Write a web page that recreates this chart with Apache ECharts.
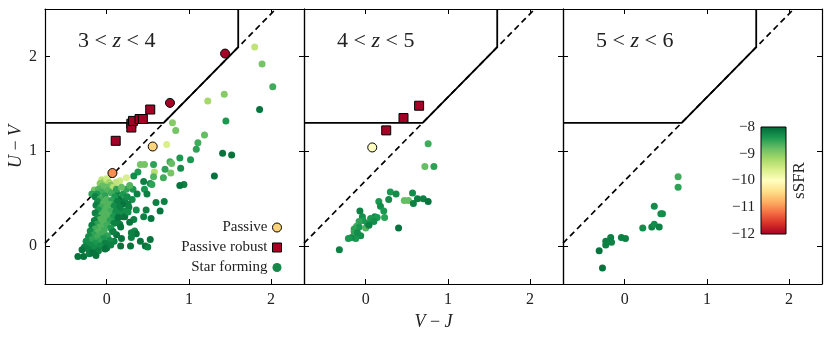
<!DOCTYPE html>
<html>
<head>
<meta charset="utf-8">
<script src="https://cdn.jsdelivr.net/npm/echarts@6/dist/echarts.min.js"></script>
<style>html,body{margin:0;padding:0;background:#fff}#c{width:831px;height:337px}</style>
</head>
<body>
<div id="c"></div>
<script>
// ---- data ----
const panelLabels = [['3','4'],['4','5'],['5','6']];
const xTicks = [0, 1, 2];
const yTicks = [0, 1, 2];
// UVJ selection box (solid) and diagonal (dashed)
const boxLine = [[-0.75, 1.3], [0.693, 1.3], [1.6, 2.098], [1.6, 2.5]];
const diagLine = [[-0.75, 0.03], [2.057, 2.5]];
// [V-J, U-V, sSFR]
const sf1 = [
[1.80,2.10,-9.4],[1.89,1.92,-8.9],[2.02,1.68,-8.6],[1.86,1.44,-8.1],[1.43,1.60,-9.0],[1.23,1.53,-9.2],[1.45,1.32,-8.4],[0.80,1.30,-9.0],[0.84,1.22,-8.9],[0.73,1.07,-9.6],[1.19,1.17,-8.8],[1.11,1.09,-8.6],[1.09,1.02,-8.5],[1.41,0.98,-8.1],[1.52,0.96,-8.1],[1.31,0.74,-8.1],[1.02,0.91,-8.4],[0.89,0.93,-8.4],[0.90,0.82,-8.3],[0.94,0.65,-8.2],[0.89,0.64,-8.1],[0.77,0.89,-8.6],[0.79,0.87,-8.8],[0.78,0.77,-8.9],[0.71,0.81,-8.5],[0.69,0.72,-8.6],[0.57,0.86,-8.5],[0.58,0.78,-9.3],[0.57,0.73,-8.7],[0.41,0.86,-8.9],[0.46,0.86,-8.9],[0.38,0.78,-8.4],[0.33,0.74,-8.3],[0.24,0.72,-9.6],[0.16,0.69,-9.5],[0.11,0.67,-9.4],[0.32,0.60,-8.4],[0.45,0.68,-8.2],[0.53,0.66,-8.3],[0.55,0.65,-8.5],[0.46,0.60,-8.4],[0.49,0.55,-8.2],[0.37,0.55,-8.2],[0.31,0.49,-8.3],[0.26,0.44,-8.2],[0.60,0.46,-8.2],[0.70,0.47,-8.2],[0.65,0.37,-8.1],[0.48,0.38,-8.2],[0.45,0.31,-8.2],[0.54,0.29,-8.1],[0.36,0.38,-8.3],[0.33,0.28,-8.2],[0.34,0.16,-8.3],[0.36,0.13,-8.1],[0.30,0.09,-8.2],[0.41,0.05,-8.1],[0.53,0.07,-8.1],[0.47,0.00,-8.1],[0.50,-0.01,-8.2],[0.29,0.00,-8.1],[0.17,0.00,-8.1],[0.20,0.31,-8.2],[0.22,0.37,-8.3],[0.16,0.23,-8.2],[0.07,0.16,-8.3],
[0.12,0.56,-8.2],[0.15,0.50,-8.1],[0.20,0.55,-8.4],[0.22,0.48,-8.2],[0.25,0.52,-8.3],[0.19,0.44,-8.1],[0.27,0.41,-8.2],[0.17,0.36,-8.3],[0.22,0.31,-8.1],[0.13,0.25,-8.2],[0.17,0.20,-8.1],[0.12,0.12,-8.1],[0.09,0.05,-8.2],[0.18,0.08,-8.1],[0.28,0.25,-8.1],[0.30,0.14,-8.2],[0.26,0.36,-8.3],[0.24,0.60,-8.5],[0.28,0.64,-8.7],
[-0.15,0.59,-8.9],[-0.18,0.55,-8.5],
[-0.06,0.70,-9.4],[-0.03,0.68,-9.1],[0.00,0.71,-9.5],[0.03,0.67,-9.2],[-0.08,0.66,-9.0],[0.05,0.64,-8.9],[-0.05,0.63,-8.8],[0.00,0.62,-8.8],[0.08,0.62,-9.3],[-0.10,0.60,-8.7],[0.02,0.58,-8.7],[-0.06,0.57,-8.6],[0.06,0.56,-8.6],[0.12,0.60,-8.5],[0.18,0.62,-8.8],[-0.12,0.55,-8.4],[-0.02,0.53,-8.5],[0.10,0.52,-8.4],
[-0.14,0.52,-8.2],[-0.08,0.50,-8.6],[0.00,0.49,-8.7],[0.06,0.48,-8.5],[-0.11,0.47,-8.3],[0.13,0.47,-8.2],[-0.04,0.45,-8.7],[0.03,0.44,-8.7],[-0.13,0.43,-8.2],[0.09,0.42,-8.3],[-0.07,0.41,-8.6],[0.00,0.40,-8.7],[0.16,0.41,-8.2],[-0.10,0.38,-8.4],[0.05,0.37,-8.6],[-0.03,0.36,-8.7],[0.11,0.36,-8.3],[-0.14,0.35,-8.2],[-0.06,0.33,-8.7],[0.02,0.32,-8.7],[0.08,0.31,-8.4],[-0.11,0.30,-8.3],[0.14,0.30,-8.1],[-0.02,0.29,-8.7],
[-0.08,0.28,-8.7],[0.04,0.27,-8.5],[-0.15,0.27,-8.2],[-0.05,0.25,-8.7],[0.09,0.24,-8.2],[-0.12,0.23,-8.5],[0.00,0.22,-8.6],[-0.18,0.22,-8.2],[-0.08,0.20,-8.7],[0.05,0.19,-8.4],[-0.14,0.18,-8.6],[-0.03,0.17,-8.6],[-0.20,0.16,-8.3],[0.08,0.15,-8.2],[-0.10,0.15,-8.7],[-0.06,0.13,-8.6],[-0.16,0.12,-8.5],[0.01,0.11,-8.5],[-0.22,0.10,-8.3],[-0.12,0.09,-8.6],[-0.04,0.08,-8.4],[-0.18,0.07,-8.5],[0.04,0.06,-8.3],[-0.09,0.05,-8.5],[-0.25,0.05,-8.3],[-0.14,0.03,-8.4],[-0.02,0.03,-8.2],[-0.20,0.01,-8.3],[-0.08,0.00,-8.3],[-0.27,-0.01,-8.2],[-0.15,-0.02,-8.3],[-0.02,-0.03,-8.1],[-0.22,-0.04,-8.2],[-0.10,-0.05,-8.2],[-0.30,-0.04,-8.1],[-0.35,-0.11,-8.1],[-0.28,-0.11,-8.1],[-0.21,-0.08,-8.2],[-0.13,-0.10,-8.1],[0.00,-0.02,-8.1],[0.05,0.01,-8.2],[-0.17,-0.07,-8.1]
];
const passive1 = [[0.07,0.77,-11.0],[0.56,1.05,-10.5],[0.77,1.51,-12.0],[1.44,2.03,-12.0]];
const robust1 = [[0.11,1.11,-12],[0.30,1.29,-12],[0.30,1.25,-12],[0.32,1.32,-12],[0.40,1.34,-12],[0.44,1.34,-12],[0.53,1.44,-12]];
const sf2 = [
[0.76,1.08,-8.6],[0.72,0.84,-8.8],[0.83,0.84,-8.5],[0.30,0.57,-8.4],[0.37,0.55,-8.3],[0.57,0.56,-8.3],[0.28,0.49,-8.3],[0.47,0.48,-8.8],[0.52,0.48,-8.8],[0.63,0.50,-8.2],[0.70,0.50,-8.2],[0.76,0.47,-8.1],[0.58,0.45,-8.2],[0.16,0.47,-8.4],[0.18,0.42,-8.3],[0.22,0.37,-8.4],[-0.07,0.37,-8.2],[0.11,0.31,-8.3],[0.14,0.30,-8.4],[0.23,0.30,-8.5],[0.06,0.29,-8.4],[0.10,0.26,-8.3],[-0.04,0.31,-8.3],[-0.03,0.27,-8.4],[-0.08,0.26,-8.5],[-0.11,0.21,-8.6],[0.00,0.19,-8.7],[-0.08,0.20,-8.4],[-0.14,0.18,-8.5],[0.40,0.19,-8.1],[-0.06,0.11,-8.3],[-0.12,0.08,-8.4],[-0.17,0.09,-8.3],[-0.21,0.08,-8.4],[-0.14,0.15,-8.5],[-0.10,0.14,-8.3],[-0.32,-0.04,-8.2],[0.02,0.24,-8.4],[0.04,0.22,-8.2]
];
const passive2 = [[0.08,1.04,-10.0]];
const robust2 = [[0.65,1.48,-12],[0.46,1.35,-12],[0.25,1.22,-12]];
const sf3 = [
[0.65,0.73,-8.6],[0.65,0.62,-8.5],[0.36,0.42,-8.3],[0.44,0.34,-8.3],[0.46,0.34,-8.3],[0.33,0.20,-8.2],[0.36,0.23,-8.3],[0.42,0.20,-8.2],[0.22,0.19,-8.3],[-0.04,0.09,-8.2],[0.01,0.08,-8.2],[-0.17,0.09,-8.2],[-0.16,0.04,-8.2],[-0.23,0.05,-8.2],[-0.23,0.01,-8.2],[-0.31,-0.05,-8.1],[-0.27,-0.23,-8.1]
];
const passive3 = [];
const robust3 = [];
const RdYlGn = ['#a50026','#d73027','#f46d43','#fdae61','#fee08b','#ffffbf','#d9ef8b','#a6d96a','#66bd63','#1a9850','#006837'];

const sfData = [sf1, sf2, sf3];
const passiveData = [passive1, passive2, passive3];
const robustData = [robust1, robust2, robust3];

// ---- layout ----
const FONT = 'Liberation Serif';
const grids = [
  {left: 45, top: 9, width: 259, height: 275},
  {left: 304, top: 9, width: 259, height: 275},
  {left: 563, top: 9, width: 259, height: 275}
];
const minus = v => (v < 0 ? '\u2212' + Math.abs(v) : String(v));

const gridOpt = grids.map(g => Object.assign({containLabel: false}, g));
gridOpt.push({left: 761, top: 127, width: 25, height: 107, show: true, borderColor: '#000', borderWidth: 1,
  backgroundColor: {type: 'linear', x: 0, y: 0, x2: 0, y2: 1,
    colorStops: RdYlGn.slice().reverse().map((c, i) => ({offset: i / (RdYlGn.length - 1), color: c}))}});

const xAxes = [], yAxes = [];
const axLine = {show: true, onZero: false, lineStyle: {color: '#000', width: 1.2}};
const richI = {fontStyle: 'italic', fontFamily: FONT, fontSize: 18, color: '#222'};
grids.forEach((g, i) => {
  [['bottom', true], ['top', false]].forEach(([pos, lab]) => {
    xAxes.push({gridIndex: i, type: 'value', position: pos, min: -0.75, max: 2.4,
      axisLine: axLine, splitLine: {show: false},
      axisTick: {show: true, inside: true, length: 5, customValues: xTicks, lineStyle: {color: '#000', width: 1}},
      axisLabel: {show: lab, customValues: xTicks, margin: 8, fontFamily: FONT, fontSize: 16, color: '#222'},
      name: (i === 1 && lab) ? '{i|V} \u2212 {i|J}' : '',
      nameLocation: 'middle', nameGap: 21,
      nameTextStyle: {fontFamily: FONT, fontSize: 18, color: '#222', rich: {i: richI}}
    });
  });
  [['left', true], ['right', false]].forEach(([pos, lab]) => {
    const showLab = lab && i === 0;
    yAxes.push({gridIndex: i, type: 'value', position: pos, min: -0.4, max: 2.5,
      axisLine: axLine, splitLine: {show: false},
      axisTick: {show: true, inside: true, length: 5, customValues: yTicks, lineStyle: {color: '#000', width: 1}},
      axisLabel: {show: showLab, customValues: yTicks, margin: 8, fontFamily: FONT, fontSize: 16, color: '#222'},
      name: showLab ? '{i|U} \u2212 {i|V}' : '',
      nameLocation: 'middle', nameGap: 16,
      nameTextStyle: {fontFamily: FONT, fontSize: 18, color: '#222', rich: {i: richI}}
    });
  });
});
// colorbar axes
xAxes.push({gridIndex: 3, type: 'value', min: 0, max: 1, show: false});
yAxes.push({gridIndex: 3, type: 'value', min: -12, max: -8, interval: 1, position: 'left',
  axisLine: {show: false}, splitLine: {show: false},
  axisTick: {show: false},
  axisLabel: {margin: 6, fontFamily: FONT, fontSize: 15, color: '#222', formatter: minus},
  name: 'sSFR', nameLocation: 'middle', nameGap: -47, nameRotate: 90,
  nameTextStyle: {fontFamily: FONT, fontSize: 17, color: '#222'}});

const series = [];
const scatterIdx = [];
grids.forEach((g, i) => {
  const xi = i * 2, yi = i * 2;
  series.push({type: 'line', xAxisIndex: xi, yAxisIndex: yi, data: diagLine, symbol: 'none', silent: true,
    lineStyle: {color: '#000', width: 1.7, type: [6, 4]}, z: 2});
  series.push({type: 'line', xAxisIndex: xi, yAxisIndex: yi, data: boxLine, symbol: 'none', silent: true,
    lineStyle: {color: '#000', width: 1.8}, z: 3});
  scatterIdx.push(series.length);
  series.push({type: 'scatter', name: 'Star forming', xAxisIndex: xi, yAxisIndex: yi, data: sfData[i],
    symbol: 'circle', symbolSize: 7, itemStyle: {color: '#17874a', opacity: 1}, z: 4});
  scatterIdx.push(series.length);
  series.push({type: 'scatter', name: 'Passive', xAxisIndex: xi, yAxisIndex: yi, data: passiveData[i],
    symbol: 'circle', symbolSize: 9, itemStyle: {color: '#fdd17a', borderColor: '#000', borderWidth: 1, opacity: 1}, z: 5});
  scatterIdx.push(series.length);
  series.push({type: 'scatter', name: 'Passive robust', xAxisIndex: xi, yAxisIndex: yi, data: robustData[i],
    symbol: 'rect', symbolSize: 9, itemStyle: {color: '#a50026', borderColor: '#000', borderWidth: 1, opacity: 1}, z: 5});
});
series.push({type: 'scatter', xAxisIndex: 6, yAxisIndex: 6, data: [], silent: true});

const graphics = grids.map((g, i) => ({
  type: 'text', left: g.left + 33, top: 30, silent: true,
  style: {
    text: '{a|' + panelLabels[i][0] + ' < }{i|z}{a| < ' + panelLabels[i][1] + '}',
    rich: {
      a: {fontFamily: FONT, fontSize: 22, fill: '#222'},
      i: {fontFamily: FONT, fontSize: 22, fontStyle: 'italic', fill: '#222'}
    }
  }
}));

const option = {
  animation: false,
  backgroundColor: '#fff',
  grid: gridOpt,
  xAxis: xAxes,
  yAxis: yAxes,
  visualMap: {type: 'continuous', show: false, min: -12, max: -8, dimension: 2,
    seriesIndex: scatterIdx, inRange: {color: RdYlGn}},
  legend: {
    orient: 'vertical', align: 'right', right: 549, top: 220, padding: 0, itemGap: 5,
    itemWidth: 9, itemHeight: 9,
    textStyle: {fontFamily: FONT, fontSize: 15, color: '#222'},
    data: [
      {name: 'Passive', icon: 'circle', itemStyle: {color: '#fdd17a', borderColor: '#000', borderWidth: 1}},
      {name: 'Passive robust', icon: 'rect', itemStyle: {color: '#a50026', borderColor: '#000', borderWidth: 1}},
      {name: 'Star forming', icon: 'circle', itemStyle: {color: '#17874a', borderWidth: 0}}
    ]
  },
  graphic: graphics,
  series: series
};
const chart = echarts.init(document.getElementById('c'), null, {renderer: 'canvas'});
chart.setOption(option);
</script>
</body>
</html>
